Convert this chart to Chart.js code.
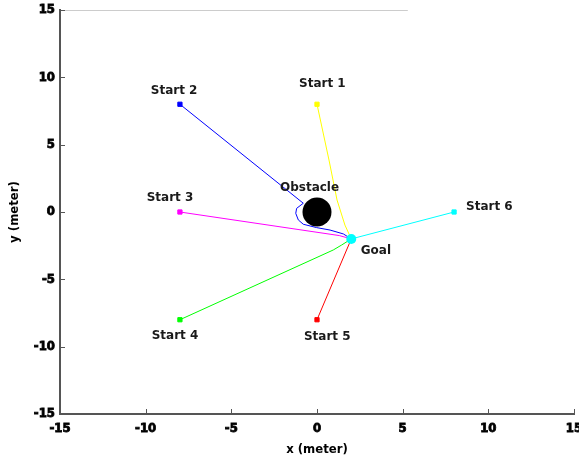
<!DOCTYPE html>
<html>
<head>
<meta charset="utf-8">
<script src="https://cdn.jsdelivr.net/npm/chart.js@4/dist/chart.umd.min.js"></script>
<style>
  html, body { margin: 0; padding: 0; background: #ffffff; }
  #wrap { width: 579px; height: 461px; }
</style>
</head>
<body>
<div id="wrap"><canvas id="c" width="579" height="461"></canvas></div>
<script>
// Trajectories from each start position to the goal (x, y in meters)
const path1 = [[0, 8], [0.7, 3.86], [1.17, 0.89], [1.63, -0.97], [2, -2]];
const path2 = [[-8, 8], [-0.8, 0.65], [-1.19, 0.27], [-1.24, -0.1], [-1.09, -0.59],
               [-0.8, -0.91], [-0.02, -1.16], [0.76, -1.34], [1.54, -1.63], [2, -2]];
const path3 = [[-8, 0], [1.3, -1.75], [2, -2]];
const path4 = [[-8, -8], [0.95, -2.82], [1.44, -2.45], [2, -2]];
const path5 = [[0, -8], [2, -2]];
const path6 = [[8, 0], [2, -2]];

const goal = [2, -2];
const obstacle = [0, 0];

// Text annotations: label, anchor x, anchor y (left edge, vertical middle)
const labelText = ['Start 1', 'Start 2', 'Start 3', 'Start 4', 'Start 5', 'Start 6', 'Goal', 'Obstacle'];
const labelX = [-1.05, -9.7, -9.94, -9.65, -0.76, 8.7, 2.55, -2.16];
const labelY = [9.5, 9.0, 1.04, -9.18, -9.26, 0.39, -2.87, 1.76];

// Axis ticks
const axisMin = -15;
const axisMax = 15;
const tickStep = 5;

const pathColors = ['#ffff00', '#0000ff', '#ff00ff', '#00ff00', '#ff0000', '#00ffff'];
const paths = [path1, path2, path3, path4, path5, path6];

const toPts = arr => arr.map(p => ({ x: p[0], y: p[1] }));

const datasets = paths.map((p, i) => ({
  data: toPts(p),
  showLine: true,
  borderColor: pathColors[i],
  backgroundColor: pathColors[i],
  borderWidth: 1,
  tension: 0,
  pointStyle: 'rect',
  pointRadius: ctx => (ctx.dataIndex === 0 ? 3 : 0),
  pointBorderWidth: 1,
  order: 3
}));

datasets.push({
  data: [{ x: obstacle[0], y: obstacle[1] }],
  showLine: false,
  pointStyle: 'circle',
  pointRadius: 14.5,
  backgroundColor: '#000000',
  borderColor: '#000000',
  pointBorderWidth: 0,
  order: 2
});

datasets.push({
  data: [{ x: goal[0], y: goal[1] }],
  showLine: false,
  pointStyle: 'circle',
  pointRadius: 5,
  backgroundColor: '#00ffff',
  borderColor: '#00ffff',
  pointBorderWidth: 0,
  order: 1
});

const tickFont = { family: '"DejaVu Sans Condensed", "Liberation Sans Narrow", "Liberation Sans", sans-serif', size: 13, weight: 'bold' };

const annotate = {
  id: 'annotate',
  afterDatasetsDraw(chart) {
    const { ctx, chartArea, scales: { x, y } } = chart;
    ctx.save();
    // faint top frame line
    ctx.strokeStyle = '#cccccc';
    ctx.lineWidth = 1;
    ctx.beginPath();
    ctx.moveTo(chartArea.left, chartArea.top + 0.5);
    ctx.lineTo(x.getPixelForValue(5.3), chartArea.top + 0.5);
    ctx.stroke();

    // inward tick marks
    ctx.strokeStyle = '#555555';
    ctx.lineWidth = 1;
    ctx.beginPath();
    for (let v = axisMin; v <= axisMax; v += tickStep) {
      const px = Math.round(x.getPixelForValue(v)) + 0.5;
      ctx.moveTo(px, chartArea.bottom);
      ctx.lineTo(px, chartArea.bottom - 5);
      const py = Math.round(y.getPixelForValue(v)) + 0.5;
      ctx.moveTo(chartArea.left, py);
      ctx.lineTo(chartArea.left + 5, py);
    }
    ctx.stroke();

    // text annotations
    ctx.fillStyle = '#1a1a1a';
    ctx.font = 'bold 12px "DejaVu Sans", Verdana, sans-serif';
    ctx.textAlign = 'left';
    ctx.textBaseline = 'middle';
    labelText.forEach((t, i) => {
      ctx.fillText(t, x.getPixelForValue(labelX[i]), y.getPixelForValue(labelY[i]));
    });
    ctx.restore();
  }
};

new Chart(document.getElementById('c'), {
  type: 'scatter',
  data: { datasets },
  options: {
    responsive: false,
    animation: false,
    devicePixelRatio: 1,
    layout: { autoPadding: false, padding: { top: 10, right: 5, left: 0, bottom: 0 } },
    plugins: { legend: { display: false }, tooltip: { enabled: false } },
    scales: {
      x: {
        type: 'linear',
        min: axisMin,
        max: axisMax,
        grid: { display: false, drawTicks: false },
        border: { display: true, color: '#555555', width: 2 },
        ticks: { stepSize: tickStep, color: '#000000', font: tickFont, padding: 7, maxRotation: 0,
                 textStrokeColor: '#000000', textStrokeWidth: 0.8 },
        title: { display: true, text: 'x (meter)', color: '#000000', font: tickFont, padding: { top: 0, bottom: 4 } },
        afterFit(scale) { scale.height = 47; scale.paddingLeft = 0; scale.paddingRight = 0; }
      },
      y: {
        type: 'linear',
        min: axisMin,
        max: axisMax,
        grid: { display: false, drawTicks: false },
        border: { display: true, color: '#555555', width: 2 },
        ticks: { stepSize: tickStep, color: '#000000', font: tickFont, padding: 5,
                 textStrokeColor: '#000000', textStrokeWidth: 0.8 },
        title: { display: true, text: 'y (meter)', color: '#000000', font: tickFont, padding: { top: 7, bottom: 0 } },
        afterFit(scale) { scale.width = 60; scale.paddingTop = 0; scale.paddingBottom = 0; }
      }
    }
  },
  plugins: [annotate]
});
</script>
</body>
</html>
